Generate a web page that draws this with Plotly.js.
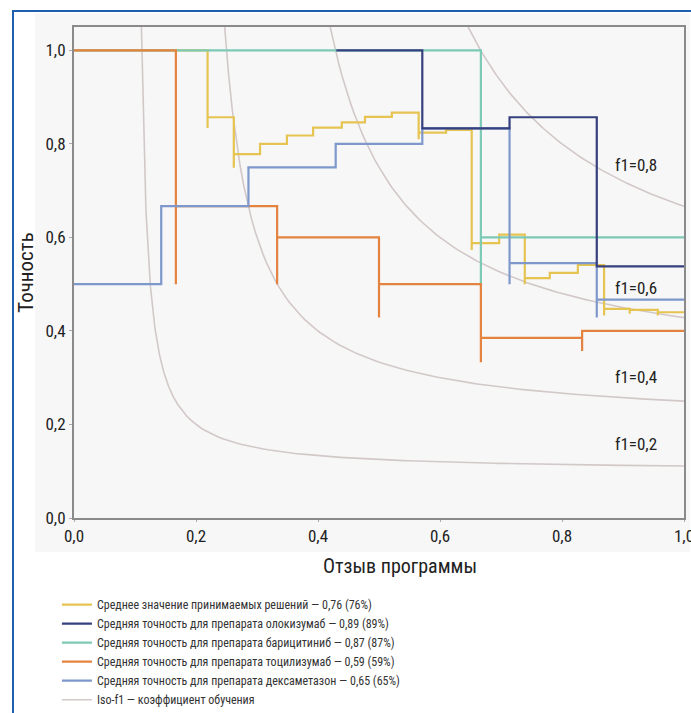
<!DOCTYPE html>
<html>
<head>
<meta charset="utf-8">
<script src="https://cdn.plot.ly/plotly-3.0.1.min.js"></script>
<style>
html,body{margin:0;padding:0;background:#ffffff;}
#chart{position:absolute;left:0;top:0;width:691px;height:713px;}
#frame{position:absolute;left:12px;top:10px;width:679px;height:703px;border-left:2px solid #1f5fad;border-top:2px solid #1f5fad;pointer-events:none;}
</style>
</head>
<body>
<div id="chart"></div>
<div id="frame"></div>
<script>
// ---- data (recall = x, precision = y) ----
const avgRecall    = [0, 0.219, 0.219, 0.262, 0.262, 0.305, 0.349, 0.392, 0.439, 0.477, 0.521, 0.565, 0.565, 0.610, 0.652, 0.652, 0.697, 0.739, 0.739, 0.780, 0.826, 0.869, 0.869, 0.911, 0.911, 0.957, 0.957, 1.0];
const avgPrecision = [1.0, 1.0, 0.834, 0.857, 0.749, 0.778, 0.800, 0.818, 0.835, 0.846, 0.858, 0.867, 0.810, 0.824, 0.830, 0.573, 0.588, 0.606, 0.500, 0.513, 0.524, 0.541, 0.433, 0.447, 0.437, 0.445, 0.433, 0.440];

const olokRecall    = [0.43, 0.571, 0.714, 0.857, 1.0];
const olokPrecision = [1.0, 1.0, 0.833, 0.857, 0.538];

const bariRecall    = [0, 0.667, 0.667, 1.0];
const bariPrecision = [1.0, 1.0, 0.500, 0.600];

const tociRecall    = [0, 0.167, 0.167, 0.333, 0.333, 0.500, 0.500, 0.667, 0.667, 0.833, 0.833, 1.0];
const tociPrecision = [1.0, 1.0, 0.500, 0.667, 0.500, 0.600, 0.429, 0.500, 0.333, 0.385, 0.357, 0.400];

const dexaRecall    = [0, 0.143, 0.286, 0.429, 0.571, 0.714, 0.714, 0.857, 0.857, 1.0];
const dexaPrecision = [0.500, 0.500, 0.667, 0.750, 0.800, 0.833, 0.500, 0.545, 0.429, 0.467];

const seriesNames = [
  'Среднее значение принимаемых решений — 0,76 (76%)',
  'Средняя точность для препарата олокизумаб — 0,89 (89%)',
  'Средняя точность для препарата барицитиниб — 0,87 (87%)',
  'Средняя точность для препарата тоцилизумаб — 0,59 (59%)',
  'Средняя точность для препарата дексаметазон — 0,65 (65%)',
  'Iso-f1 — коэффициент обучения'
];
const isoLevels = [0.2, 0.4, 0.6, 0.8];
const isoLabels = ['f1=0,2', 'f1=0,4', 'f1=0,6', 'f1=0,8'];
const xTickVals = [0, 0.2, 0.4, 0.6, 0.8, 1.0];
const yTickVals = [0, 0.2, 0.4, 0.6, 0.8, 1.0];
const xTitle = 'Отзыв программы';
const yTitle = 'Точность';

const FONT = "'Roboto Condensed','DejaVu Sans Condensed',sans-serif";
const traces = [];
// iso-f1 reference contours (definition: precision = f*r / (2r - f))
isoLevels.forEach((f, i) => {
  const xs = [], ys = [];
  const rMin = 1.05 * f / (2 * 1.05 - f);
  const n = 120;
  for (let k = 0; k <= n; k++) {
    const r = rMin + (1 - rMin) * k / n;
    xs.push(r); ys.push(f * r / (2 * r - f));
  }
  traces.push({x: xs, y: ys, mode: 'lines', name: seriesNames[5], legendgroup: 'iso',
    showlegend: i === 0, legendrank: 6, hoverinfo: 'skip',
    line: {color: '#d3c8c8', width: 1.6}});
});

function stepTrace(x, y, name, color, rank) {
  return {x: x, y: y, mode: 'lines', name: name, legendrank: rank,
    line: {color: color, width: 2.2, shape: 'vh'}};
}
// drawing order (bottom to top); legend order set by legendrank
traces.push(stepTrace(avgRecall, avgPrecision, seriesNames[0], '#e6c452', 1));
traces.push(stepTrace(bariRecall, bariPrecision, seriesNames[2], '#7ccab6', 3));
traces.push(stepTrace(tociRecall, tociPrecision, seriesNames[3], '#e4823f', 4));
traces.push(stepTrace(dexaRecall, dexaPrecision, seriesNames[4], '#7e98cb', 5));
traces.push(stepTrace(olokRecall, olokPrecision, seriesNames[1], '#36407e', 2));

const annotations = isoLevels.map((f, i) => {
  const r = 0.919;
  return {x: 0.883, y: f * r / (2 * r - f) + 0.02, xref: 'x', yref: 'y', text: isoLabels[i],
    showarrow: false, xanchor: 'left', yanchor: 'bottom', font: {family: FONT, size: 17, color: '#222'}};
});
annotations.push({x: 0.534, y: -0.098, xref: 'paper', yref: 'paper', text: xTitle, showarrow: false,
  xanchor: 'center', yanchor: 'middle', font: {family: FONT, size: 20, color: '#222'}});

const layout = {
  width: 691, height: 713,
  margin: {l: 74, r: 7, t: 27, b: 195, autoexpand: false},
  paper_bgcolor: '#ffffff',
  plot_bgcolor: '#fafafa',
  separators: ', ',
  font: {family: FONT, color: '#222'},
  showlegend: true,
  legend: {x: -0.028, xref: 'paper', xanchor: 'left', y: -0.147, yanchor: 'top',
    font: {family: FONT, size: 12, color: '#333'}, bgcolor: 'rgba(0,0,0,0)', tracegroupgap: 0},
  xaxis: {range: [0, 1], tickvals: xTickVals, tickformat: '.1f', showgrid: false, zeroline: false,
    showline: true, mirror: true, linecolor: '#8a8a8a', linewidth: 2,
    ticks: 'outside', ticklen: 2, tickcolor: '#aaa', ticklabeloverflow: 'allow',
    tickfont: {family: FONT, size: 17, color: '#222'}},
  yaxis: {range: [0, 1.05], tickvals: yTickVals, tickformat: '.1f', showgrid: false, zeroline: false,
    showline: true, mirror: true, linecolor: '#8a8a8a', linewidth: 2,
    ticks: 'outside', ticklen: 3, tickcolor: '#aaa',
    tickfont: {family: FONT, size: 17, color: '#222'},
    title: {text: yTitle, font: {family: FONT, size: 21, color: '#222'}, standoff: 6}},
  annotations: annotations,
  shapes: [{type: 'rect', xref: 'paper', yref: 'paper', layer: 'below',
    x0: -0.064, x1: 1.01, y0: -0.069, y1: 1.028, fillcolor: '#f7f7f7', line: {width: 0}}]
};
Plotly.newPlot('chart', traces, layout, {displayModeBar: false, staticPlot: true});
</script>
</body>
</html>
